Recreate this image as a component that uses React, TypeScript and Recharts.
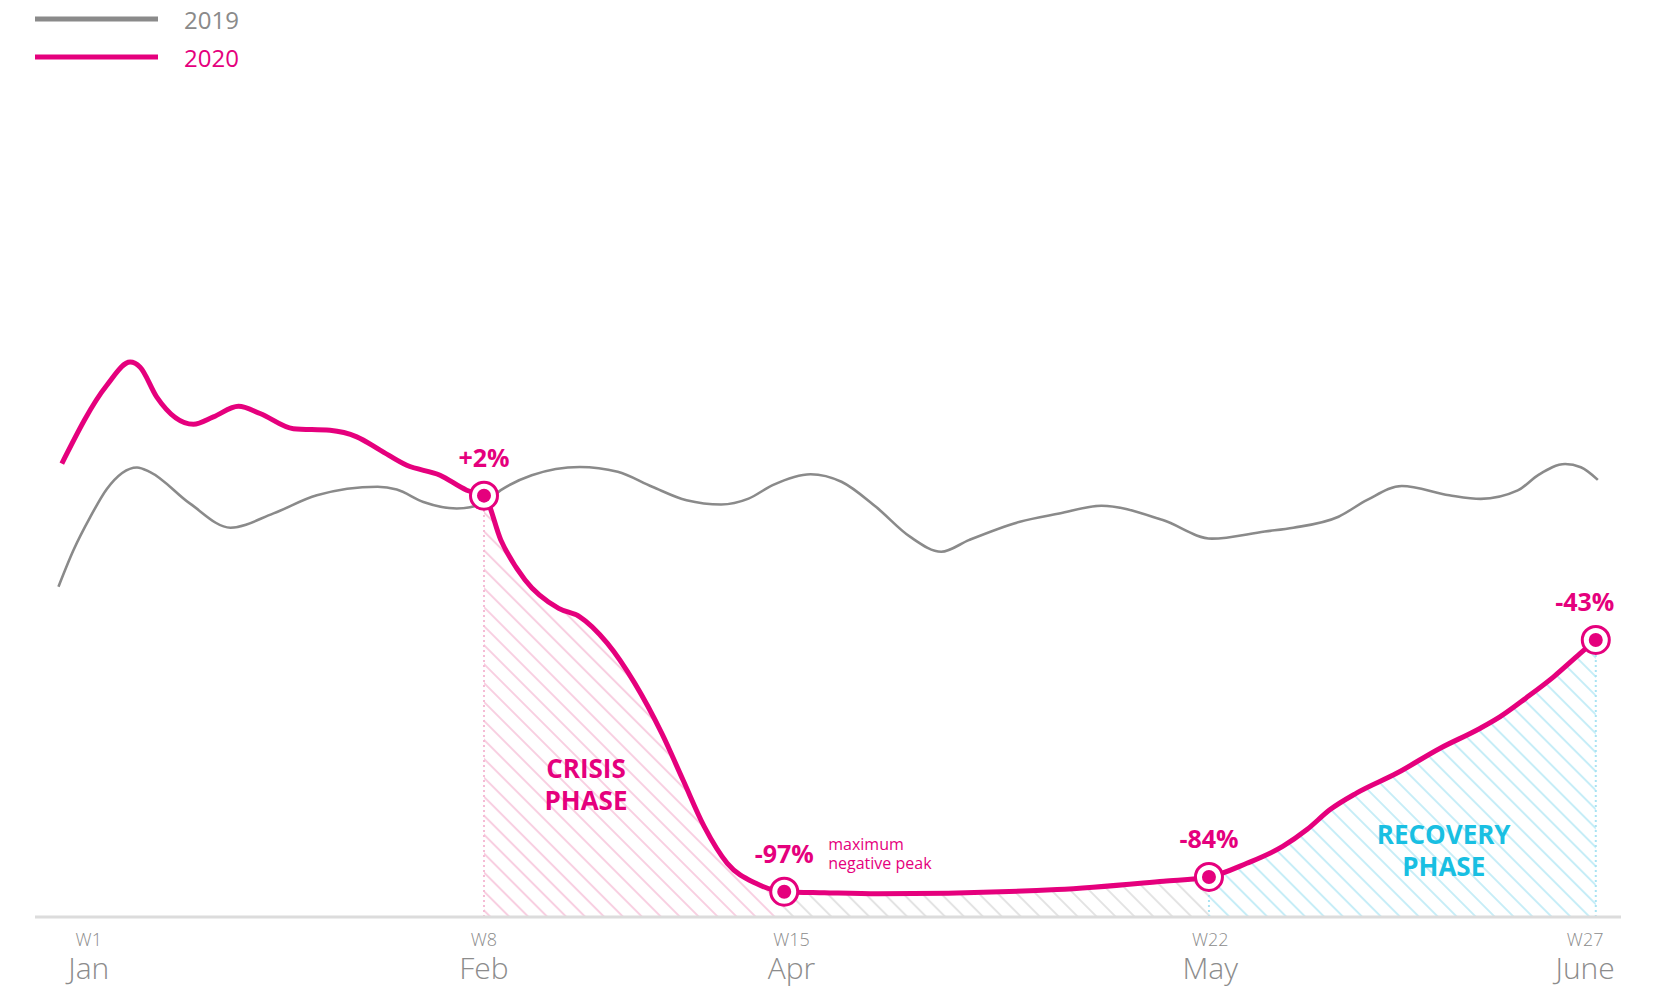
import React from 'react';
import { ComposedChart, Line, Area, XAxis, YAxis, ReferenceLine, ReferenceDot } from 'recharts';

const PINK = '#e5007d';
const GREY = '#8a8a8a';
const CYAN = '#19bfe2';
const FONT = "'Open Sans', sans-serif";

// x = position along the timeline (0-100), v = weekly index
const x2019 = [1.48, 2.43, 3.48, 4.53, 6.43, 7.26, 9.78, 12.33, 15.04, 17.77, 21.6, 22.81, 24.49, 26.59, 28.27, 29.37, 31.32, 34.35, 36.74, 38.92, 41.08, 43.26, 44.99, 46.51, 48.9, 50.85, 53.02, 55.19, 57.14, 58.88, 62.1, 64.58, 67.24, 71.11, 74.2, 77.54, 79.34, 82.19, 84.0, 86.18, 89.17, 91.16, 93.49, 94.82, 96.48, 97.47, 98.54];
const v2019 = [78.4, 87.1, 94.9, 101.6, 106.7, 105.6, 98.1, 92.4, 95.8, 100.1, 102.1, 101.45, 98.5, 96.95, 98.15, 101.3, 104.85, 106.8, 105.65, 102.1, 98.9, 97.9, 99.3, 102.5, 105.1, 103.3, 97.35, 90.2, 86.7, 89.45, 93.8, 95.75, 97.6, 94.2, 89.8, 91.5, 92.4, 95, 99, 102.3, 100.1, 99.25, 101.25, 105, 107.5, 106.75, 103.75];

const x2020 = [1.69, 4.53, 6.0, 6.63, 7.68, 9.99, 11.25, 12.83, 14.19, 16.29, 18.6, 20.29, 21.76, 23.44, 25.54, 27.22, 28.31, 29.37, 30.9, 33.02, 34.35, 36.08, 37.81, 39.53, 40.86, 42.19, 43.65, 45.45, 47.24, 49.77, 53.16, 64.45, 71.16, 74.02, 76.41, 78.67, 80.2, 81.66, 83.32, 85.85, 88.57, 91.1, 92.36, 94.02, 95.75, 97.41, 98.41];
const v2020 = [107.6, 126.2, 131.7, 130.5, 123.4, 116.95, 118.7, 121.2, 119.5, 115.9, 115.5, 113.95, 110.8, 107.2, 104.85, 101.3, 100, 89.5, 80, 73.25, 71.25, 65, 55.5, 43.5, 32.5, 21.5, 12.75, 8, 6, 5.75, 5.5, 6.5, 8.5, 9.5, 12.75, 16.75, 20.75, 25.5, 29.4, 34.1, 40, 44.75, 47.5, 52, 57, 62.5, 65.75];

const seriesNames = ['2019', '2020'];

const weekTicks = [3.39, 28.31, 47.7, 74.1, 97.74];
const weekLabels = ['W1', 'W8', 'W15', 'W22', 'W27'];
const monthLabels = ['Jan', 'Feb', 'Apr', 'May', 'June'];

const markX = [28.31, 47.24, 74.02, 98.41];
const markLabels = ['+2%', '-97%', '-84%', '-43%'];
const peakNote = ['maximum', 'negative peak'];

const phaseNames = [['CRISIS', 'PHASE'], ['RECOVERY', 'PHASE']];

const data2019 = x2019.map((x, i) => ({ x, v: v2019[i] }));
const data2020 = x2020.map((x, i) => ({ x, v: v2020[i] }));
const between = (a: number, b: number) => data2020.filter((d) => d.x >= a && d.x <= b);
const crisisData = between(markX[0], markX[1]);
const flatData = between(markX[1], markX[2]);
const recoveryData = between(markX[2], markX[3]);
const valueAt = (x: number) => data2020.find((d) => d.x === x)?.v ?? 0;

const WeekTick = (props: any) => {
  const { x, y, payload } = props;
  const i = weekTicks.indexOf(payload.value);
  return (
    <g>
      <text x={x} y={y + 29} textAnchor="middle" fill="#8c8c8c" fontSize={18} fontWeight={300} fontFamily={FONT}>
        {weekLabels[i]}
      </text>
      <text x={x} y={y + 62} textAnchor="middle" fill="#8c8c8c" fontSize={30} fontWeight={300} fontFamily={FONT}>
        {monthLabels[i]}
      </text>
    </g>
  );
};

const MarkerDot = (props: any) => {
  const { cx, cy, payload, index } = props;
  const k = markX.indexOf(payload.x);
  if (k < 0) return <g key={`d${index}`} />;
  const labelX = k === markX.length - 1 ? cx - 11 : cx;
  return (
    <g key={`d${index}`}>
      <circle cx={cx} cy={cy} r={13.5} fill="#fff" stroke={PINK} strokeWidth={3} />
      <circle cx={cx} cy={cy} r={7} fill={PINK} />
      <text x={labelX} y={cy - 29} textAnchor="middle" fill={PINK} fontSize={25} fontWeight={700} fontFamily={FONT}>
        {markLabels[k]}
      </text>
      {k === 1 && (
        <g>
          <text x={cx + 44} y={cy - 42} fill={PINK} fontSize={16} fontFamily={FONT}>{peakNote[0]}</text>
          <text x={cx + 44} y={cy - 23} fill={PINK} fontSize={16} fontFamily={FONT}>{peakNote[1]}</text>
        </g>
      )}
    </g>
  );
};

const phaseShape = (lines: string[], color: string) => (p: any) => (
  <g>
    <text x={p.cx} y={p.cy - 6} textAnchor="middle" fill={color} fontSize={26} fontWeight={700} fontFamily={FONT}>
      {lines[0]}
    </text>
    <text x={p.cx} y={p.cy + 26} textAnchor="middle" fill={color} fontSize={26} fontWeight={700} fontFamily={FONT}>
      {lines[1]}
    </text>
  </g>
);

const Hatch = ({ id, color }: { id: string; color: string }) => (
  <pattern id={id} width={13.4} height={13.4} patternUnits="userSpaceOnUse" patternTransform="rotate(-45)">
    <line x1={6.7} y1={0} x2={6.7} y2={13.4} stroke={color} strokeWidth={2} />
  </pattern>
);

export default function App() {
  return (
    <div style={{ position: 'relative', width: 1653, height: 987, background: '#fff' }}>
      <style>{'body{margin:0}'}</style>
      <svg width={300} height={80} style={{ position: 'absolute', left: 0, top: 0 }}>
        <line x1={35} y1={19} x2={158} y2={19} stroke={GREY} strokeWidth={5} />
        <text x={184} y={29} fill={GREY} fontSize={24} fontFamily={FONT}>{seriesNames[0]}</text>
        <line x1={35} y1={57} x2={158} y2={57} stroke={PINK} strokeWidth={5} />
        <text x={184} y={67} fill={PINK} fontSize={24} fontFamily={FONT}>{seriesNames[1]}</text>
      </svg>
      <ComposedChart width={1653} height={987} margin={{ top: 285, right: 32, left: 35, bottom: 0 }}>
        <defs>
          <Hatch id="hatchPink" color="#f8cfe1" />
          <Hatch id="hatchGrey" color="#e3e3e3" />
          <Hatch id="hatchCyan" color="#c6edf7" />
        </defs>
        <XAxis
          type="number"
          dataKey="x"
          domain={[0, 100]}
          ticks={weekTicks}
          interval={0}
          tick={<WeekTick />}
          tickLine={false}
          tickSize={0}
          tickMargin={0}
          height={70}
          axisLine={{ stroke: '#dcdcdc', strokeWidth: 3 }}
        />
        <YAxis type="number" domain={[0, 150]} hide />
        <Area data={crisisData} dataKey="v" type="monotone" stroke="none" fill="url(#hatchPink)" fillOpacity={1} baseValue={0} isAnimationActive={false} dot={false} activeDot={false} />
        <Area data={flatData} dataKey="v" type="monotone" stroke="none" fill="url(#hatchGrey)" fillOpacity={1} baseValue={0} isAnimationActive={false} dot={false} activeDot={false} />
        <Area data={recoveryData} dataKey="v" type="monotone" stroke="none" fill="url(#hatchCyan)" fillOpacity={1} baseValue={0} isAnimationActive={false} dot={false} activeDot={false} />
        <ReferenceLine segment={[{ x: markX[0], y: 0 }, { x: markX[0], y: valueAt(markX[0]) }]} stroke="#f5bcd5" strokeWidth={2} strokeDasharray="2 3" />
        <ReferenceLine segment={[{ x: markX[2], y: 0 }, { x: markX[2], y: valueAt(markX[2]) }]} stroke="#a9e3f2" strokeWidth={2} strokeDasharray="2 3" />
        <ReferenceLine segment={[{ x: markX[3], y: 0 }, { x: markX[3], y: valueAt(markX[3]) }]} stroke="#a9e3f2" strokeWidth={2} strokeDasharray="2 3" />
        <Line data={data2019} dataKey="v" name={seriesNames[0]} type="monotone" stroke={GREY} strokeWidth={2.6} dot={false} activeDot={false} isAnimationActive={false} />
        <Line data={data2020} dataKey="v" name={seriesNames[1]} type="monotone" stroke={PINK} strokeWidth={5} dot={MarkerDot} activeDot={false} isAnimationActive={false} />
        <ReferenceDot x={34.74} y={31.65} r={0} shape={phaseShape(phaseNames[0], PINK)} />
        <ReferenceDot x={88.82} y={15.9} r={0} shape={phaseShape(phaseNames[1], CYAN)} />
      </ComposedChart>
    </div>
  );
}
